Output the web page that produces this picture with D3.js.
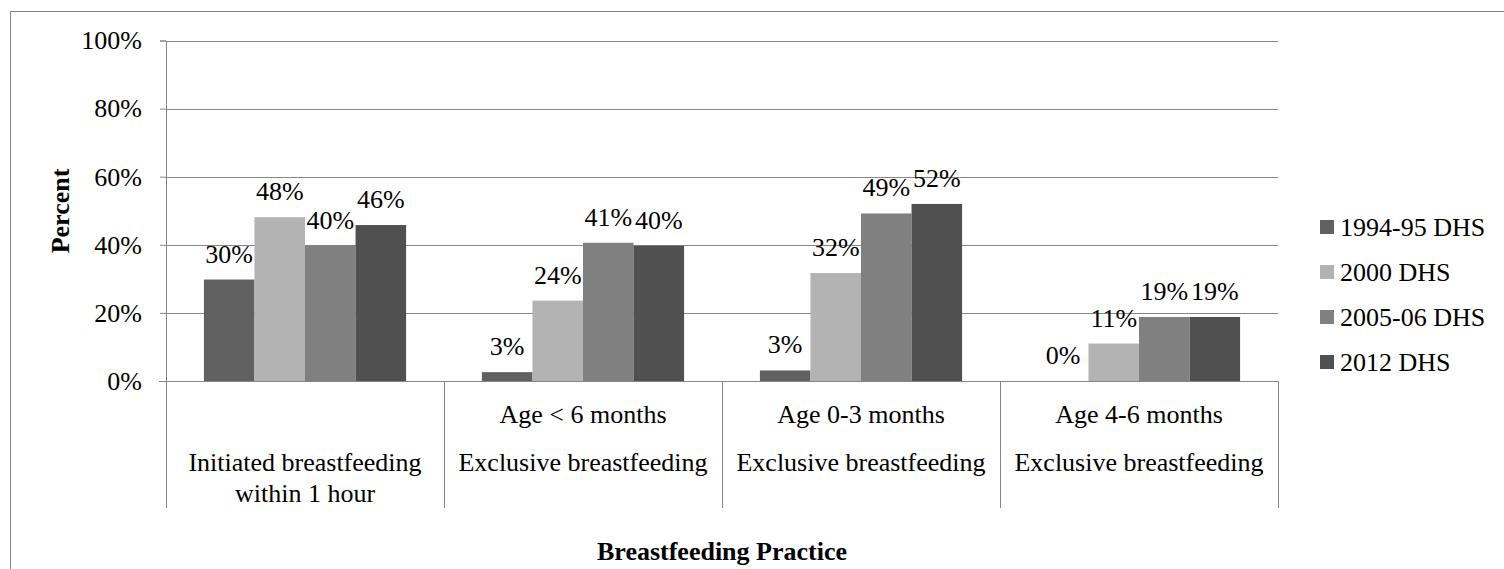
<!DOCTYPE html>
<html>
<head>
<meta charset="utf-8">
<script src="https://cdn.jsdelivr.net/npm/d3@7"></script>
<style>
  body { margin: 0; background: #fff; }
</style>
</head>
<body>
<div id="chart"></div>
<script>
// categories: top line (age group) and main lines
const categories = ["init", "lt6", "m0to3", "m4to6"];
const catTop = ["", "Age < 6 months", "Age 0-3 months", "Age 4-6 months"];
const catMain = [
    ["Initiated breastfeeding", "within 1 hour"],
    ["Exclusive breastfeeding"],
    ["Exclusive breastfeeding"],
    ["Exclusive breastfeeding"]
];

const seriesNames = ["1994-95 DHS", "2000 DHS", "2005-06 DHS", "2012 DHS"];
const seriesColors = ["#606060", "#b3b3b3", "#808080", "#505050"];

const s1994 = [29.8, 2.6, 3.1, 0];
const s2000 = [48.1, 23.6, 31.7, 11.0];
const s2005 = [39.7, 40.6, 49.2, 18.8];
const s2012 = [45.8, 39.7, 52.0, 18.8];
const seriesValues = [s1994, s2000, s2005, s2012];

const yTicks = [0, 20, 40, 60, 80, 100];

const width = 1504, height = 569;
const margin = { top: 40.5, left: 166, right: 1278, bottom: 381 };
const gridColor = "#868686";

// serif text styling set on each text element
const serifText = (sel, weight = 400) => sel
    .attr("font-family", "Liberation Serif")
    .attr("font-weight", weight)
    .attr("font-size", 26)
    .attr("fill", "#000");

const svg = d3.select("#chart")
    .append("svg")
    .attr("width", width)
    .attr("height", height);

// outer chart border
svg.append("rect")
    .attr("x", 10.5)
    .attr("y", 11.5)
    .attr("width", 1520)
    .attr("height", 600)
    .attr("fill", "none")
    .attr("stroke", gridColor)
    .attr("stroke-width", 1);

const x = d3.scaleBand()
    .domain(categories)
    .range([margin.left, margin.right])
    .paddingInner(0)
    .paddingOuter(0);

const xs = d3.scaleBand()
    .domain(seriesNames)
    .range([0, x.bandwidth()])
    .paddingInner(0)
    .paddingOuter(0.75);

const y = d3.scaleLinear()
    .domain([0, 100])
    .range([margin.bottom, margin.top]);

// y axis ticks and labels
const yAxis = d3.axisLeft(y)
    .tickValues(yTicks)
    .tickSize(6)
    .tickPadding(18)
    .tickFormat(d => d + "%");

const gy = svg.append("g")
    .attr("transform", `translate(${margin.left},0)`)
    .call(yAxis);
gy.select(".domain").attr("stroke", gridColor);
gy.selectAll(".tick line").attr("stroke", gridColor);
gy.selectAll(".tick text").call(serifText);

// gridlines
svg.append("g")
    .selectAll("line")
    .data(yTicks.filter(d => d > 0))
    .join("line")
    .attr("x1", margin.left)
    .attr("x2", margin.right)
    .attr("y1", d => Math.round(y(d)) + 0.5)
    .attr("y2", d => Math.round(y(d)) + 0.5)
    .attr("stroke", gridColor);

// bars
const rows = [];
categories.forEach((c, i) => {
    seriesNames.forEach((s, j) => {
        rows.push({ cat: c, series: s, value: seriesValues[j][i], color: seriesColors[j] });
    });
});

svg.append("g")
    .selectAll("rect")
    .data(rows)
    .join("rect")
    .attr("x", d => x(d.cat) + xs(d.series))
    .attr("y", d => y(d.value))
    .attr("width", xs.bandwidth())
    .attr("height", d => y(0) - y(d.value))
    .attr("fill", d => d.color);

// value labels
svg.append("g")
    .selectAll("text")
    .data(rows)
    .join("text")
    .call(serifText)
    .attr("x", d => x(d.cat) + xs(d.series) + xs.bandwidth() / 2)
    .attr("y", d => y(d.value) - 17)
    .attr("text-anchor", "middle")
    .text(d => Math.round(d.value) + "%");

// category axis: baseline and separators
svg.append("line")
    .attr("x1", margin.left - 7)
    .attr("x2", margin.right)
    .attr("y1", margin.bottom + 0.5)
    .attr("y2", margin.bottom + 0.5)
    .attr("stroke", gridColor);

const bounds = categories.map(c => x(c)).concat([margin.right]);
svg.append("g")
    .selectAll("line")
    .data(bounds)
    .join("line")
    .attr("x1", d => Math.round(d) + 0.5)
    .attr("x2", d => Math.round(d) + 0.5)
    .attr("y1", margin.bottom)
    .attr("y2", 508)
    .attr("stroke", gridColor);

// category labels
const catG = svg.append("g")
    .selectAll("g")
    .data(categories)
    .join("g")
    .attr("transform", d => `translate(${x(d) + x.bandwidth() / 2},0)`);

catG.append("text")
    .call(serifText)
    .attr("y", 423)
    .attr("text-anchor", "middle")
    .text((d, i) => catTop[i]);

catG.each(function(d, i) {
    d3.select(this)
        .selectAll("text.main")
        .data(catMain[i])
        .join("text")
        .call(serifText)
        .attr("class", "main")
        .attr("y", (t, k) => 471 + k * 31)
        .attr("text-anchor", "middle")
        .text(t => t);
});

// axis titles
svg.append("text")
    .call(serifText, 700)
    .attr("transform", "translate(69,211) rotate(-90)")
    .attr("text-anchor", "middle")
    .text("Percent");

svg.append("text")
    .call(serifText, 700)
    .attr("x", (margin.left + margin.right) / 2)
    .attr("y", 560)
    .attr("text-anchor", "middle")
    .text("Breastfeeding Practice");

// legend
const legend = svg.append("g")
    .selectAll("g")
    .data(seriesNames)
    .join("g")
    .attr("transform", (d, i) => `translate(1320,${220 + i * 45})`);

legend.append("rect")
    .attr("width", 14)
    .attr("height", 14)
    .attr("fill", (d, i) => seriesColors[i]);

legend.append("text")
    .call(serifText)
    .attr("x", 20)
    .attr("y", 16)
    .text(d => d);
</script>
</body>
</html>
